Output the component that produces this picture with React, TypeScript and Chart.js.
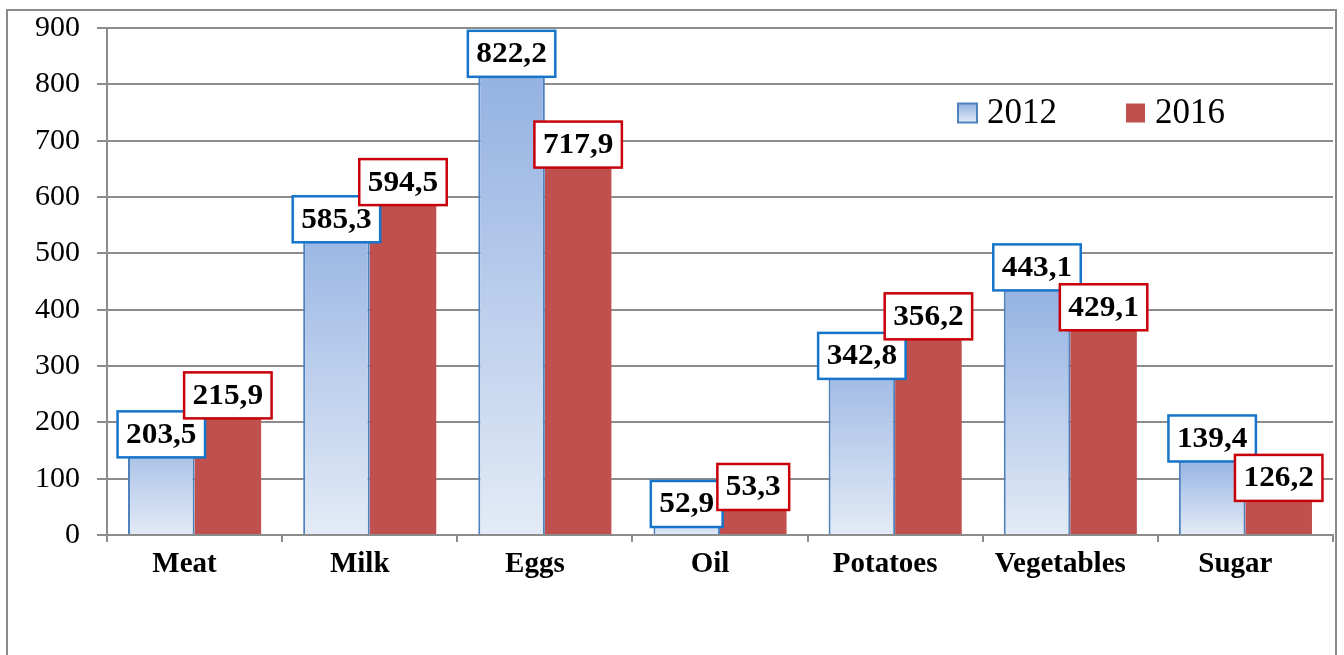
import React, { useEffect, useRef } from "react";
import { Chart, registerables } from "chart.js";

Chart.register(...registerables);

const categories = ["Meat", "Milk", "Eggs", "Oil", "Potatoes", "Vegetables", "Sugar"];
const seriesNames = ["2012", "2016"];
const values2012 = [203.5, 585.3, 822.2, 52.9, 342.8, 443.1, 139.4];
const values2016 = [215.9, 594.5, 717.9, 53.3, 356.2, 429.1, 126.2];
const yMin = 0;
const yMax = 900;
const yStep = 100;

const FONT = "'Liberation Serif', 'Times New Roman', serif";
const GRID = "#8c8c8c";
const BLUE_TOP = "#93B1E2";
const BLUE_BOTTOM = "#E3EBF6";
const BLUE_EDGE = "#4F81BD";
const RED = "#C0504D";
const LABEL_BORDERS = ["#1675C9", "#C8000A"];

function blueGradient(ctx: CanvasRenderingContext2D, top: number, bottom: number) {
  const g = ctx.createLinearGradient(0, top, 0, bottom);
  g.addColorStop(0, BLUE_TOP);
  g.addColorStop(1, BLUE_BOTTOM);
  return g;
}

const boxLabelPlugin = {
  id: "boxLabels",
  afterDatasetsDraw(chart: any) {
    const ctx: CanvasRenderingContext2D = chart.ctx;
    const ys = chart.scales.y;
    const base = ys.getPixelForValue(0);
    const ds = chart.data.datasets;
    const stretch = 1.08;
    const h = 46;
    ctx.save();
    ctx.font = `bold 29px ${FONT}`;
    ds.forEach((d: any, di: number) => {
      const meta = chart.getDatasetMeta(di);
      meta.data.forEach((el: any, i: number) => {
        const v = d.data[i];
        const other = ds[1 - di].data[i];
        const text = v.toFixed(1).replace(".", ",");
        const tw = ctx.measureText(text).width * stretch;
        const w = tw + 17;
        let cy = v >= other ? el.y - 18 : el.y + 14;
        cy = Math.min(cy, base - 8 - h / 2);
        const x = el.x - w / 2;
        const y = cy - h / 2;
        ctx.fillStyle = "#ffffff";
        ctx.fillRect(x, y, w, h);
        ctx.lineWidth = 2.5;
        ctx.strokeStyle = LABEL_BORDERS[di];
        ctx.strokeRect(x, y, w, h);
        ctx.save();
        ctx.translate(el.x, cy + 1);
        ctx.scale(stretch, 1);
        ctx.fillStyle = "#000000";
        ctx.textAlign = "center";
        ctx.textBaseline = "middle";
        ctx.fillText(text, 0, 0);
        ctx.restore();
      });
    });
    ctx.restore();
  },
};

const legendPlugin = {
  id: "customLegend",
  afterDraw(chart: any) {
    const ctx: CanvasRenderingContext2D = chart.ctx;
    const area = chart.chartArea;
    const cy = area.top + 85;
    const starts = [area.left + 851, area.left + 1019];
    const size = 19;
    ctx.save();
    ctx.font = `35px ${FONT}`;
    ctx.textBaseline = "middle";
    ctx.textAlign = "left";
    chart.data.datasets.forEach((d: any, di: number) => {
      const x = starts[di];
      const y = cy - size / 2;
      if (di === 0) {
        ctx.fillStyle = blueGradient(ctx, y, y + size);
        ctx.fillRect(x, y, size, size);
        ctx.lineWidth = 2;
        ctx.strokeStyle = BLUE_EDGE;
        ctx.strokeRect(x, y, size, size);
      } else {
        ctx.fillStyle = RED;
        ctx.fillRect(x, y, size, size);
      }
      ctx.fillStyle = "#000000";
      ctx.fillText(d.label, x + size + 10, cy + 1);
    });
    ctx.restore();
  },
};

export default function App() {
  const canvasRef = useRef<HTMLCanvasElement | null>(null);

  useEffect(() => {
    if (!canvasRef.current) return;
    const chart = new Chart(canvasRef.current, {
      type: "bar",
      data: {
        labels: categories,
        datasets: [
          {
            label: seriesNames[0],
            data: values2012,
            backgroundColor: (c: any) => {
              const ch = c.chart;
              if (!ch.chartArea || c.type !== "data") return "#BCCEEA";
              const ys = ch.scales.y;
              const top = ys.getPixelForValue(c.raw);
              const bottom = ys.getPixelForValue(0);
              return blueGradient(ch.ctx, top, bottom);
            },
            borderColor: BLUE_EDGE,
            borderWidth: 2,
            borderSkipped: "bottom",
          },
          {
            label: seriesNames[1],
            data: values2016,
            backgroundColor: RED,
            borderWidth: 0,
          },
        ],
      },
      options: {
        responsive: false,
        animation: false,
        devicePixelRatio: 1,
        layout: { padding: { left: 8, top: 28, right: 11, bottom: 0 } },
        plugins: {
          legend: { display: false },
          tooltip: { enabled: false },
        },
        datasets: {
          bar: { categoryPercentage: 0.76, barPercentage: 1.0 },
        },
        scales: {
          x: {
            grid: {
              offset: true,
              drawOnChartArea: false,
              drawTicks: true,
              tickLength: 7,
              color: GRID,
              lineWidth: 2,
            },
            border: { display: true, color: GRID, width: 2 },
            ticks: {
              color: "#000000",
              font: { family: FONT, size: 29, weight: "bold" },
              padding: 5,
              labelOffset: -10,
              maxRotation: 0,
              autoSkip: false,
            },
            afterFit: (scale: any) => {
              scale.height = 120;
            },
          },
          y: {
            min: yMin,
            max: yMax,
            ticks: {
              stepSize: yStep,
              color: "#000000",
              font: { family: FONT, size: 30 },
              padding: 17,
            },
            grid: {
              color: GRID,
              lineWidth: 2,
              drawTicks: true,
              tickLength: 10,
            },
            border: { display: true, color: GRID, width: 2 },
            afterFit: (scale: any) => {
              scale.width = 99;
              scale.paddingTop = 0;
              scale.paddingBottom = 0;
            },
          },
        },
      },
      plugins: [boxLabelPlugin, legendPlugin],
    } as any);
    return () => chart.destroy();
  }, []);

  return (
    <div
      style={{
        position: "fixed",
        left: 0,
        top: 0,
        width: 1344,
        height: 655,
        background: "#ffffff",
        overflow: "hidden",
      }}
    >
      <div
        style={{
          position: "absolute",
          left: 6,
          top: 9,
          width: 1331,
          height: 660,
          border: `2.5px solid ${GRID}`,
          boxSizing: "border-box",
        }}
      />
      <canvas
        ref={canvasRef}
        width={1344}
        height={655}
        style={{ position: "absolute", left: 0, top: 0 }}
      />
    </div>
  );
}
